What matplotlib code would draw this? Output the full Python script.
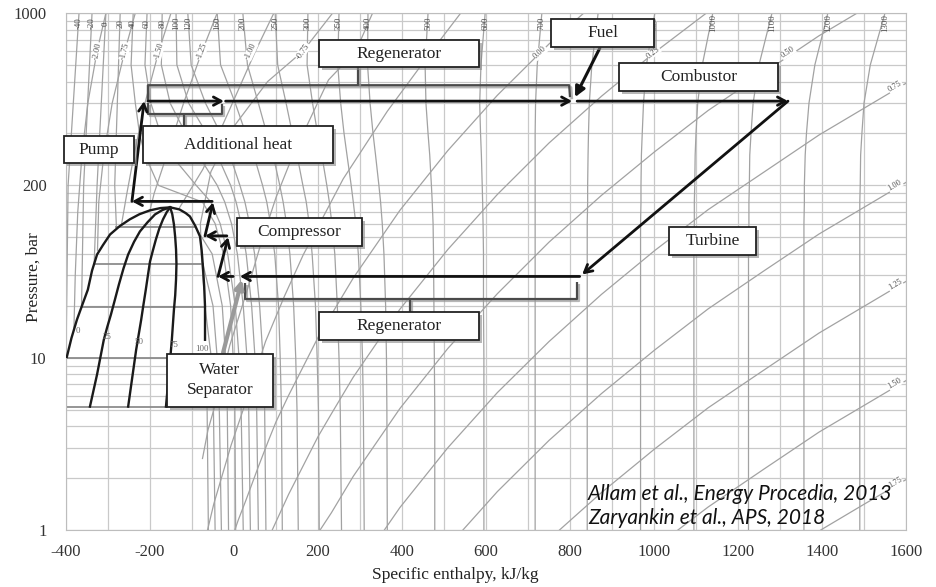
import numpy as np
import matplotlib
matplotlib.use("Agg")
import matplotlib.pyplot as plt
import matplotlib.patheffects as pe
from matplotlib.patches import Rectangle
from matplotlib.ticker import FixedLocator, MultipleLocator, LogLocator, NullFormatter

plt.rcParams['font.family'] = ['Liberation Serif', 'DejaVu Serif']
plt.rcParams['axes.unicode_minus'] = False

# ---- isotherms (deg C): enthalpy (kJ/kg) read at each pressure level (bar)
ISO_P = [1000, 500, 300, 200, 150, 100, 80, 60, 40, 20, 10, 5, 1]
ISO_T = [40, 60, 80, 100, 120, 160, 200, 250, 300, 350, 400, 500, 600, 700, 800, 900, 1000, 1100, 1200, 1300]
ISO_H = [
    [-240, -245, -235, -225, -212, -180, -75, -45, -25, -8, -2, 2, 4],
    [-207, -212, -198, -175, -150, -90, -55, -33, -15, 3, 12, 17, 22],
    [-171, -173, -152, -115, -85, -40, -22, -6, 8, 22, 31, 35, 39],
    [-138, -136, -108, -65, -40, -8, 5, 17, 29, 42, 50, 54, 58],
    [-110, -102, -68, -32, -10, 14, 26, 37, 49, 61, 69, 73, 76],
    [-40, -32, 3, 28, 47, 68, 78, 87, 97, 106, 110, 113, 115],
    [21, 32, 58, 78, 93, 109, 117, 125, 133, 142, 147, 150, 153],
    [98, 104, 124, 139, 150, 164, 172, 179, 186, 194, 198, 201, 203],
    [176, 174, 187, 199, 209, 221, 227, 233, 240, 246, 250, 253, 256],
    [250, 247, 254, 262, 269, 279, 284, 290, 296, 302, 306, 308, 310],
    [319, 318, 324, 331, 337, 345, 349, 353, 357, 361, 363, 364, 365],
    [462, 455, 457, 462, 466, 470, 472, 474, 475, 476, 477, 478, 478],
    [598, 588, 585, 587, 589, 591, 592, 593, 594, 594, 595, 595, 595],
    [733, 722, 718, 717, 717, 717, 717, 717, 717, 717, 717, 717, 717],
    [867, 852, 846, 844, 843, 842, 842, 841, 841, 841, 841, 841, 841],
    [1002, 982, 975, 972, 970, 969, 969, 968, 968, 968, 968, 968, 968],
    [1140, 1115, 1104, 1100, 1098, 1097, 1096, 1096, 1095, 1095, 1095, 1095, 1095],
    [1281, 1250, 1236, 1231, 1228, 1227, 1226, 1226, 1225, 1225, 1225, 1225, 1225],
    [1414, 1383, 1369, 1363, 1360, 1358, 1358, 1357, 1357, 1357, 1357, 1357, 1357],
    [1550, 1515, 1500, 1495, 1492, 1491, 1490, 1490, 1490, 1490, 1490, 1490, 1490],
]

# subcritical isotherms: liquid branch, plateau at saturation, vapour branch
SUB_T = [-40, -20, 0, 20]
SUB_PSAT = [10.0, 19.7, 34.9, 57.3]
SUB_LIQ_P = [1000, 100]
SUB_LIQ_H = [[-369, -395], [-338, -358], [-305, -326], [-271, -284]]
SUB_SAT_LIQ_H = [-400, -363, -333, -280]
SUB_VAP_P = [[10, 5, 1], [19.7, 10, 5, 1], [34.9, 20, 10, 5, 1], [57.3, 40, 20, 10, 5, 1]]
SUB_VAP_H = [[-68, -64, -61], [-69, -54, -49, -45], [-74, -50, -40, -35, -30], [-92, -52, -28, -20, -16, -13]]

# labels at the top of the isotherms (800 sits under the Fuel box)
ISO_LABEL_T = [-40, -20, 0, 20, 40, 60, 80, 100, 120, 160, 200, 250, 300, 350, 400,
               500, 600, 700, 900, 1000, 1100, 1200, 1300]
ISO_LABEL_H = [-369, -338, -305, -271, -240, -207, -171, -138, -110, -40, 21, 98, 176, 250, 319,
               462, 598, 733, 1002, 1140, 1281, 1414, 1550]

# ---- isentropes (kJ/kg/K)
ISEN_S = ['-2.00', '-1.75', '-1.50', '-1.25', '-1.00', '-0.75', '-0.50', '-0.25',
          '0.00', '0.25', '0.50', '0.75', '1.00', '1.25', '1.50', '1.75']
ISEN_H = [
    [-305, -326, -348, -362, -372, -378, -381],
    [-235, -260, -290, -310, -322, -325],
    [-150, -179, -212, -238, -255, -268],
    [-40, -76, -120, -160, -190, -200],
    [95, 51, -10, -74, -115, -130],
    [235, 164, 80, 0, -55, -80, -78, -72],
    [330, 290, 225, 140, 100, 65, 30, -10, -45, -62, -75],
    [540, 470, 365, 260, 165, 120, 75, 37, -7, -48, -63],
    [833, 750, 627, 509, 395, 284, 232, 200, 130, 100, 82, 58, 28, 10, 2],
    [1125, 1002, 875, 750, 627, 509, 395, 284, 232, 200, 130, 91],
    [1484, 1393, 1261, 1129, 1002, 875, 750, 627, 509, 395, 284, 232, 205],
    [1600, 1393, 1261, 1129, 1002, 875, 750, 627, 509, 395, 358],
    [1600, 1393, 1261, 1129, 1002, 875, 750, 627, 545],
    [1600, 1393, 1261, 1129, 1002, 875, 775],
    [1600, 1393, 1261, 1129, 1057],
    [1600, 1500, 1397],
]
ISEN_P = [
    [1000, 600, 300, 150, 70, 30, 15],
    [1000, 600, 300, 150, 80, 42],
    [1000, 600, 300, 150, 90, 59],
    [1000, 600, 300, 150, 90, 71.6],
    [1000, 600, 277, 124, 85, 74],
    [1000, 600, 400, 220, 120, 60, 40, 25],
    [1000, 600, 409, 149, 85, 46.7, 24, 11.8, 5.3, 3.8, 2.6],
    [1000, 598, 269, 109, 39.6, 22.7, 12.4, 6.4, 3.1, 1.42, 1.0],
    [1000, 661, 333, 159, 71.6, 29.0, 17.8, 13.1, 6.04, 4.24, 3.30, 2.33, 1.48, 1.14, 1.0],
    [1000, 592, 329, 176, 88.5, 42.4, 19.1, 7.71, 4.73, 3.48, 1.61, 1.0],
    [1000, 738, 449, 272, 157, 87.5, 46.8, 23.5, 11.3, 5.07, 2.05, 1.26, 1.0],
    [391, 196, 119, 72.3, 41.9, 23.3, 12.4, 6.27, 3.0, 1.35, 1.0],
    [104, 52.2, 31.8, 19.2, 11.1, 6.19, 3.31, 1.67, 1.0],
    [27.7, 13.9, 8.45, 5.12, 2.96, 1.65, 1.0],
    [7.36, 3.70, 2.25, 1.36, 1.0],
    [1.96, 1.41, 1.0],
]
# visible isentrope labels (-0.50 and -0.25 are hidden by the Regenerator box)
ISEN_LABELS = ['-2.00', '-1.75', '-1.50', '-1.25', '-1.00', '-0.75',
               '0.00', '0.25', '0.50', '0.75', '1.00', '1.25', '1.50', '1.75']
ISEN_LABEL_H = [-326, -260, -179, -76, 40, 164, 729, 998, 1319, 1574, 1574, 1574, 1574, 1574]
ISEN_LABEL_P = [600, 600, 600, 600, 600, 600, 590, 590, 590, 376, 100, 26.5, 7.1, 1.88]

# ---- two-phase dome, quality lines (%)
Q_LABELS = ['0', '25', '50', '75', '100']
Q_H = [
    [-152, -175, -200, -225, -248, -272, -295, -312, -326, -338, -348, -362, -374, -387, -398],
    [-152, -170, -188, -206, -224, -238, -252, -263, -274, -284, -293, -302, -310, -326, -343],
    [-152, -160, -169, -178, -186, -193, -200, -205, -210, -216, -221, -233, -243, -252],
    [-152, -147, -143, -140, -138, -137, -138, -140, -143, -148, -155, -162],
    [-152, -130, -115, -105, -92, -81, -77, -74, -71, -69, -69],
]
Q_P = [
    [74.5, 73.8, 71.6, 68, 63.5, 58, 51.9, 45, 39.7, 32, 24.8, 20, 16.6, 13, 10.1],
    [74.5, 72, 67.8, 61, 54, 47, 39.7, 33, 26.6, 21.5, 17.8, 15, 12.7, 8.0, 5.2],
    [74.5, 70, 63.5, 56, 48.5, 42, 36.1, 30, 24.8, 20, 16.6, 11.1, 7.45, 5.2],
    [74.5, 68, 59.3, 50, 42.5, 35, 28.4, 23, 19.0, 12.7, 8.0, 5.2],
    [74.5, 72.5, 69, 66, 58, 50.5, 42, 33.8, 26, 19.8, 12.7],
]
Q_LABEL_H = [-372, -303, -226, -143, -76]
Q_LABEL_P = [14.2, 13.2, 12.4, 11.9, 11.3]
TRIPLE_H = [-400, -160]
TRIPLE_P = 5.18

# ---- Allam cycle legs: start (h, p) -> end (h, p)
CYC_H0 = [-243, -205, -20, 817, 1319, 823, -2, -38, -17, -69, -52]
CYC_P0 = [80.7, 308, 308, 308, 308, 29.6, 29.6, 29.6, 50.9, 50.9, 80.7]
CYC_H1 = [-214, -24, 805, 1319, 829, 14, -38, -14, -69, -50, -243]
CYC_P1 = [308, 308, 308, 308, 30.4, 29.6, 29.6, 50, 50.9, 79.6, 80.7]

BOX_TEXT = ['Pump', 'Additional heat', 'Regenerator', 'Fuel', 'Combustor',
            'Compressor', 'Turbine', 'Regenerator', 'Water\nSeparator']

fig = plt.figure(figsize=(9.37, 5.87), dpi=100)
ax = fig.add_axes([66 / 937, 57 / 587, 840 / 937, 517 / 587])
ax.set_yscale('log')
ax.set_xlim(-400, 1600)
ax.set_ylim(1, 1000)

# grid
ax.xaxis.set_major_locator(FixedLocator(np.arange(-400, 1601, 200)))
ax.xaxis.set_minor_locator(MultipleLocator(100))
ax.set_xticklabels(['-400', '-200', '0', '200', '400', '600', '800', '1000', '1200', '1400', '1600'])
ax.yaxis.set_major_locator(FixedLocator([1, 10, 100, 1000]))
ax.yaxis.set_minor_locator(LogLocator(base=10, subs=np.arange(2, 10)))
ax.yaxis.set_minor_formatter(NullFormatter())
ax.set_yticklabels(['1', '10', '200', '1000'])
ax.grid(which='both', color='#c9c9c9', lw=0.9)
ax.set_axisbelow(True)
for sp in ax.spines.values():
    sp.set_color('#bdbdbd')
ax.tick_params(axis='both', which='both', length=0, labelsize=12, colors='#333333')
ax.tick_params(axis='y', pad=14)
ax.tick_params(axis='x', pad=10)

gcol = '#a2a2a2'
# isotherms
for hs in ISO_H:
    ax.plot(hs, ISO_P, color=gcol, lw=0.9, zorder=2)
for hl, psat, hsl, vp, vh in zip(SUB_LIQ_H, SUB_PSAT, SUB_SAT_LIQ_H, SUB_VAP_P, SUB_VAP_H):
    ax.plot(hl + [hsl], SUB_LIQ_P + [psat], color=gcol, lw=0.9, zorder=2)
    ax.plot([hsl, vh[0]], [psat, psat], color='#8c8c8c', lw=1.3, zorder=2)
    ax.plot(vh, vp, color=gcol, lw=0.9, zorder=2)
for t, h in zip(ISO_LABEL_T, ISO_LABEL_H):
    ax.text(h, 870, str(t), rotation=90, fontsize=6.3, color='#4d4d4d',
            ha='center', va='center', zorder=3)

# isentropes
isen_rot = [79, 76, 74, 69, 65, 55, 43, 38, 33, 31, 31, 31, 31, 31]
for hs, ps in zip(ISEN_H, ISEN_P):
    ax.plot(hs, ps, color=gcol, lw=0.9, zorder=2)
for lab, h, p, r in zip(ISEN_LABELS, ISEN_LABEL_H, ISEN_LABEL_P, isen_rot):
    ax.text(h, p, lab, rotation=r, fontsize=6, color='#4d4d4d', ha='center', va='center',
            zorder=3, bbox=dict(fc='white', ec='none', pad=0.3))

# dome
for hs, ps in zip(Q_H, Q_P):
    ax.plot(hs, ps, color='#1a1a1a', lw=1.7, zorder=4)
ax.plot(TRIPLE_H, [TRIPLE_P, TRIPLE_P], color='#8c8c8c', lw=1.3, zorder=2)
for lab, h, p in zip(Q_LABELS, Q_LABEL_H, Q_LABEL_P):
    ax.text(h, p, lab, fontsize=6.3, color='#666666', ha='center', va='center', zorder=5)

# brackets (regenerator / additional heat)
shadow = [pe.SimpleLineShadow(offset=(1.5, -1.5), shadow_color='#999999', alpha=0.7), pe.Normal()]
bk = dict(color='#4a4a4a', lw=1.6, zorder=5, path_effects=shadow, solid_capstyle='butt')
ax.plot([-205, -205, 798, 800], [312, 381, 381, 325], **bk)
ax.plot([295, 295], [381, 485], **bk)
ax.plot([-205, -205, -29, -29], [300, 259, 259, 296], **bk)
ax.plot([-119, -119], [259, 220], **bk)
ax.plot([26, 26, 817, 817], [27, 22, 22, 27.5], **bk)
ax.plot([419, 419], [22, 18.3], **bk)

# cycle arrows
for h0, p0, h1, p1 in zip(CYC_H0, CYC_P0, CYC_H1, CYC_P1):
    ax.annotate('', xy=(h1, p1), xytext=(h0, p0),
                arrowprops=dict(arrowstyle='->,head_length=0.55,head_width=0.3', color='#111111',
                                lw=2.0, shrinkA=0, shrinkB=0), zorder=6)
ax.annotate('', xy=(812, 325), xytext=(871, 626),
            arrowprops=dict(arrowstyle='-|>,head_length=0.6,head_width=0.3', color='#111111',
                            lw=2.2, shrinkA=0, shrinkB=0), zorder=6)
ax.annotate('', xy=(19, 28.4), xytext=(-26, 10.7),
            arrowprops=dict(arrowstyle='-|>,head_length=0.5,head_width=0.25', color='#9a9a9a',
                            lw=3.0, shrinkA=0, shrinkB=0), zorder=5)

# labelled boxes
box_h = [(-405, -238), (-217, 236), (202, 583), (755, 1000), (917, 1295),
         (7, 305), (1036, 1243), (202, 583), (-160, 93)]
box_p = [(134, 193), (134, 220), (485, 697), (634, 923), (352, 512),
         (44.2, 64.3), (39.2, 57.0), (12.6, 18.3), (5.19, 10.5)]
for txt, (h0, h1), (p0, p1) in zip(BOX_TEXT, box_h, box_p):
    r = Rectangle((h0, p0), h1 - h0, p1 - p0, fc='white', ec='#222222', lw=1.3,
                  zorder=7, clip_on=False,
                  path_effects=[pe.withSimplePatchShadow(offset=(2, -2), shadow_rgbFace='#888888', alpha=0.6)])
    ax.add_patch(r)
    ax.text((h0 + h1) / 2, np.sqrt(p0 * p1), txt, fontsize=12.5, color='#222222',
            ha='center', va='center', zorder=8, linespacing=1.35)

# reference text
ax.text(843, 1.494, 'Allam et al., Energy Procedia, 2013', family=['Lato', 'DejaVu Sans'],
        style='italic', fontsize=15, color='#111111', ha='left', va='baseline', zorder=8)
ax.text(843, 1.083, 'Zaryankin et al., APS, 2018', family=['Lato', 'DejaVu Sans'],
        style='italic', fontsize=15, color='#111111', ha='left', va='baseline', zorder=8)

ax.set_xlabel('Specific enthalpy, kJ/kg', fontsize=12.5, color='#222222')
ax.xaxis.set_label_coords(0.464, -0.072)
ax.set_ylabel('Pressure, bar', fontsize=12.5, color='#222222')
ax.yaxis.set_label_coords(-0.029, 0.49)

fig.savefig('out.png', dpi=100, facecolor='white')
plt.close(fig)
